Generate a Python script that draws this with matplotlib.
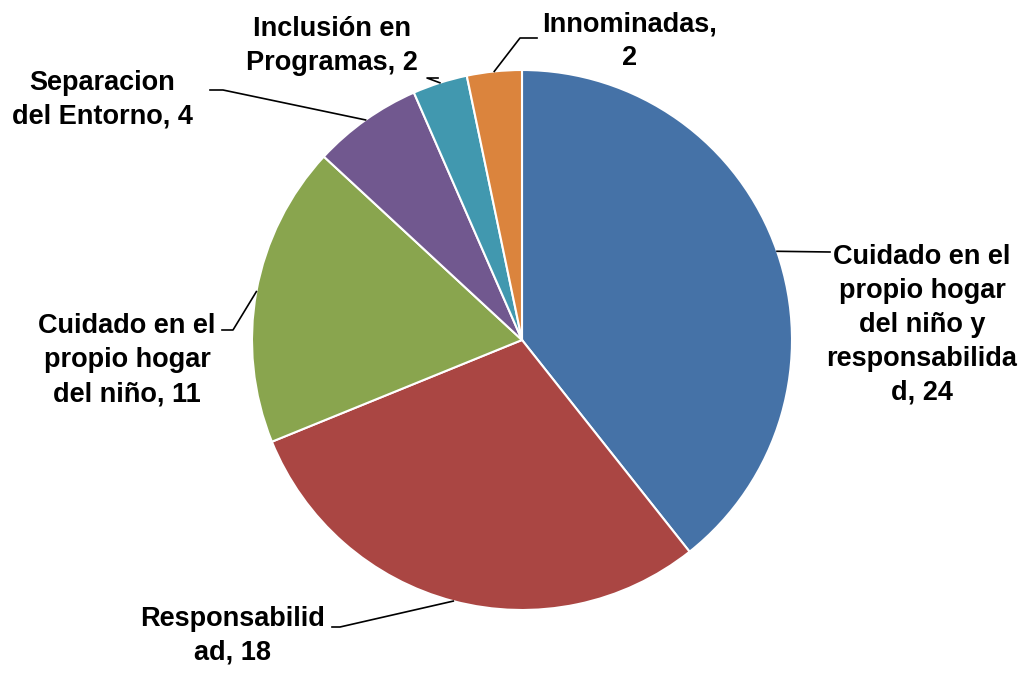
import matplotlib.pyplot as plt
import numpy as np

labels = ["Cuidado en el\npropio hogar\ndel niño y\nresponsabilida\nd", "Responsabilid\nad",
          "Cuidado en el\npropio hogar\ndel niño", "Separacion\ndel Entorno",
          "Inclusión en\nProgramas", "Innominadas,\n"]
values = [24, 18, 11, 4, 2, 2]
colors = ["#4572A7", "#AA4643", "#89A54E", "#71588F", "#4198AF", "#DB843D"]

# pixel layout of the reference (center of pie, radius)
W, H = 1027, 675
cx, cy, R = 522, 340, 270

def to_data(px, py):
    return (px - cx) / R, (cy - py) / R

# label centres (px) and leader line knee / end points (px)
label_pos = [(922, 325), (233, 636), (127, 360), (102, 100), (332, 46), (630, 41)]
knee_pos = [(830, 252), (340, 627), (233, 330), (223, 90), (427, 78), (520, 38)]
end_pos = [(830, 252), (332, 627), (222, 330), (210, 90), (438, 78), (537, 38)]

plt.rcParams['font.family'] = ['Liberation Sans', 'DejaVu Sans']

fig = plt.figure(figsize=(W / 100, H / 100), dpi=100)
ax = fig.add_axes([0, 0, 1, 1])
ax.pie(values, colors=colors, startangle=90, counterclock=False, radius=1,
       wedgeprops=dict(edgecolor="white", linewidth=1.5))
ax.set_xlim(-cx / R, (W - cx) / R)
ax.set_ylim((cy - H) / R, cy / R)
ax.set_aspect("equal")
ax.axis("off")

total = sum(values)
start = 90.0
for i, v in enumerate(values):
    span = v / total * 360
    mid = np.deg2rad(start - span / 2)
    start -= span
    ex, ey = np.cos(mid), np.sin(mid)
    kx, ky = to_data(*knee_pos[i])
    tx, ty = to_data(*end_pos[i])
    ax.plot([ex, kx, tx], [ey, ky, ty], color="black", lw=1.2)
    if labels[i].endswith("\n"):
        text = labels[i] + f"{v}"
    else:
        text = labels[i] + f", {v}"
    lx, ly = to_data(*label_pos[i])
    ax.text(lx, ly, text, ha="center", va="center", fontsize=19.5,
            fontweight="bold", color="black", linespacing=1.4)

fig.savefig("out.png", dpi=100)
